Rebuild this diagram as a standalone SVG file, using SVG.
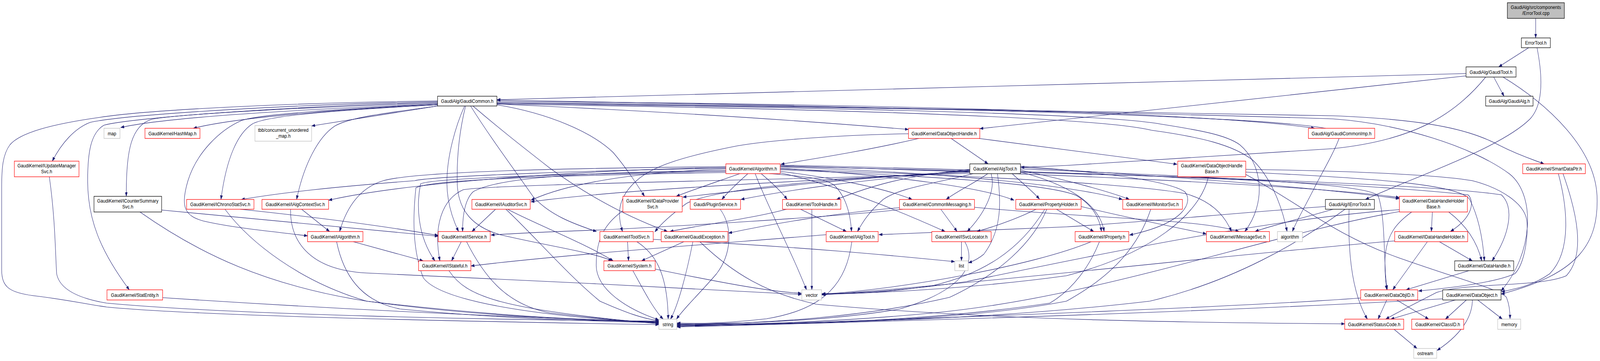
<svg xmlns="http://www.w3.org/2000/svg" width="4801" height="923" viewBox="0 0 4801 923">
<style>
.e path{fill:none;stroke:#191970;stroke-width:1.1;marker-end:url(#ah)}
.n rect{fill:#fff;stroke-width:1.3}
.r rect{stroke:#ff0000}
.b rect{stroke:#000}
.g rect{stroke:#bfbfbf}
.m rect{fill:#bfbfbf;stroke:#000}
text{font-family:"Liberation Sans",Arial,Helvetica,sans-serif;font-size:13.2px;text-anchor:middle;fill:#000}
</style>
<defs>
<marker id="ah" markerUnits="userSpaceOnUse" markerWidth="11" markerHeight="8" refX="10.5" refY="3.75" orient="auto">
<path d="M0,0 L10.5,3.75 L0,7.5 z" fill="#191970" stroke="#191970" stroke-width="0.5"/>
</marker>
</defs>
<rect width="4801" height="923" fill="#fff"/>
<g id="diagram" transform="scale(0.85316,1)">
<g class="e" id="edges">
<path d="M4608,47 L4608,97"/>
<path d="M4587,122 L4497,171"/>
<path d="M4612,122 C4630,200 4630,270 4590,305 C4500,380 4250,450 4097,510"/>
<path d="M4399,188 L1491,255"/>
<path d="M4399,194 L2940,329"/>
<path d="M4458,197 C4360,300 4230,360 4000,380 L3200,423 L3063,428"/>
<path d="M4482,197 L4513,246"/>
<path d="M4510,197 C4650,270 4785,380 4792,500 C4798,620 4740,700 4504,752"/>
<path d="M1313,258 C900,262 450,280 300,300 C150,318 60,340 30,370 C8,395 5,430 5,480 L5,690 C5,735 30,748 100,756 C200,766 260,778 320,785 C600,808 1400,822 1977,830"/>
<path d="M1313,260 C900,266 380,292 270,313 C225,328 185,365 157,412"/>
<path d="M1313,262 C900,270 400,300 312,320 C272,340 263,390 263,462 C263,560 300,640 388,741"/>
<path d="M1313,264 C950,272 530,292 455,305 C395,322 378,380 379,502"/>
<path d="M1313,266 C1000,276 520,296 362,326"/>
<path d="M1313,268 C1050,278 720,298 580,328"/>
<path d="M1313,271 L935,322"/>
<path d="M1313,268 C1000,282 800,296 757,317 C715,340 680,400 663,510"/>
<path d="M1313,266 C1050,278 790,290 725,308 C660,332 590,390 564,462 C540,530 555,552 610,565 C700,583 820,592 923,603"/>
<path d="M1313,271 C1150,290 1050,300 1005,322 C955,350 912,420 890,510"/>
<path d="M1394,271 C1368,320 1340,400 1341,470 C1342,520 1358,560 1376,592"/>
<path d="M1397,271 C1380,330 1370,400 1372,470 C1375,540 1420,580 1500,600 C1650,630 1780,645 1836,667"/>
<path d="M1412,271 C1470,350 1540,430 1600,503 C1650,550 1720,572 1790,592"/>
<path d="M1419,271 C1500,330 1560,370 1650,430 C1780,510 1900,560 2003,592"/>
<path d="M1491,268 C1650,290 1780,340 1840,390 C1880,430 1910,470 1934,502"/>
<path d="M1491,266 C2000,285 2400,308 2726,331"/>
<path d="M1491,259 C2500,265 3600,285 3945,328"/>
<path d="M1491,262 C2500,268 3600,285 4000,296 C4300,306 4420,335 4500,372 C4560,398 4600,408 4633,419"/>
<path d="M1491,264 C2500,272 3500,290 4000,304 C4200,316 4420,375 4530,445 C4610,500 4600,650 4504,744"/>
<path d="M1491,266 C2500,278 3300,300 3455,333 C3600,350 3700,370 3760,410 C3820,460 3850,540 3862,592"/>
<path d="M1491,264 C2500,275 3300,290 3481,317 C3600,333 3680,345 3720,370 C3790,420 3800,520 3735,592"/>
<path d="M3978,328 C3800,300 3000,278 1491,256"/>
<path d="M4018,354 C4005,385 3975,430 3950,470 C3915,530 3890,565 3878,592"/>
<path d="M2757,354 C2600,385 2450,405 2343,420"/>
<path d="M2726,342 C2500,345 2300,360 2212,373 C2050,400 1957,425 1910,462 C1860,500 1848,540 1868,592"/>
<path d="M2854,354 L2965,419"/>
<path d="M2938,354 L3532,420"/>
<path d="M2178,426 C1700,430 1250,438 1150,462 C1080,480 1040,530 1019,592"/>
<path d="M2178,432 C1900,440 1700,470 1593,512"/>
<path d="M2178,436 C1800,440 1500,450 1420,490 C1395,510 1388,550 1388,592"/>
<path d="M2178,438 C1700,445 1300,455 1262,470 C1250,520 1250,600 1305,667"/>
<path d="M2178,441 C1700,448 1300,458 1248,480 C1238,560 1238,640 1270,710 C1320,770 1600,808 1977,826"/>
<path d="M2178,430 C1800,435 1300,450 1244,462 C1000,478 850,492 724,510"/>
<path d="M2178,428 C1700,436 1200,470 986,512"/>
<path d="M2220,444 C2150,465 2080,485 2029,502"/>
<path d="M2244,444 C2210,470 2185,490 2166,510"/>
<path d="M2266,444 C2300,520 2360,620 2395,690 C2410,720 2415,730 2420,741"/>
<path d="M2284,444 C2320,470 2345,490 2362,510"/>
<path d="M2309,444 C2400,450 2480,455 2505,475 C2540,505 2552,550 2555,592"/>
<path d="M2341,438 C2500,455 2650,480 2737,510"/>
<path d="M2341,442 C2500,470 2700,540 2836,592"/>
<path d="M2341,430 C2700,450 2950,480 3043,512"/>
<path d="M2341,427 C2800,440 3200,470 3368,510"/>
<path d="M2341,434 C2800,450 3150,470 3230,500 C3280,525 3300,560 3305,592"/>
<path d="M2341,432 C2900,448 3400,470 3557,495 C3620,510 3670,540 3695,592"/>
<path d="M2341,424 C3000,440 3900,470 4199,505"/>
<path d="M2341,422 C3000,435 4000,460 4405,498 C4425,515 4420,555 4352,592"/>
<path d="M2341,425 C3000,440 4200,460 4505,498 C4545,530 4530,600 4477,667"/>
<path d="M2910,440 C2500,460 1900,480 1593,516"/>
<path d="M2910,443 C2400,460 1500,470 1390,485 C1325,510 1300,580 1320,667"/>
<path d="M2910,437 C2500,460 2300,480 2049,504"/>
<path d="M2910,435 C2600,460 2400,480 2223,510"/>
<path d="M2910,433 C2700,450 2600,480 2510,510"/>
<path d="M2964,444 C2920,470 2870,490 2839,510"/>
<path d="M3037,444 C3070,470 3100,490 3119,509"/>
<path d="M2920,444 C2800,470 2700,480 2650,510 C2610,540 2590,565 2573,592"/>
<path d="M2974,444 C2990,490 2950,550 2902,592"/>
<path d="M2993,444 C3005,520 3005,590 2952,650 C2935,662 2920,668 2906,672"/>
<path d="M3062,435 C3200,460 3330,490 3389,510"/>
<path d="M3062,425 C3300,440 3500,460 3555,490 C3580,515 3560,570 3389,601"/>
<path d="M3062,440 C3200,470 3300,520 3313,592"/>
<path d="M3062,428 C3500,450 3900,475 4199,508"/>
<path d="M3062,432 C3700,455 4100,470 4135,500 C4160,560 4150,690 4163,740"/>
<path d="M2910,438 C2500,458 2150,480 2060,520 C2020,545 1985,570 1965,593"/>
<path d="M2823,535 L2872,592"/>
<path d="M2924,530 C3300,560 3600,560 3718,592"/>
<path d="M2709,535 C2500,555 2000,580 1800,588 C1600,594 1520,598 1473,601"/>
<path d="M2699,531 C2500,545 2300,575 2186,596"/>
<path d="M3170,535 L3282,592"/>
<path d="M3109,535 C3050,560 2980,580 2931,592"/>
<path d="M3135,535 C3060,640 2950,700 2800,730 C2650,750 2550,750 2466,752"/>
<path d="M3141,535 C3100,620 3000,700 2850,760 C2600,810 2300,828 2031,830"/>
<path d="M3244,528 C3400,560 3550,585 3620,598"/>
<path d="M3453,535 C3420,620 3350,700 3200,770 C2900,820 2400,830 2031,832"/>
<path d="M3299,618 C3270,680 3220,740 3150,775 C2800,820 2400,830 2031,833"/>
<path d="M3274,618 C3100,680 2700,740 2466,752"/>
<path d="M2885,618 L2885,667"/>
<path d="M2895,618 C2930,670 2900,740 2700,790 C2500,820 2200,830 2031,826"/>
<path d="M2479,600 C2200,620 1700,650 1413,680"/>
<path d="M2556,618 C2540,720 2480,790 2300,815 C2200,825 2100,828 2031,828"/>
<path d="M2402,535 L2540,592"/>
<path d="M2436,535 L2436,741"/>
<path d="M2360,535 C2250,560 2100,575 2010,592"/>
<path d="M2161,535 C2200,580 2195,650 2150,700 C2100,750 2050,790 2030,816"/>
<path d="M1869,539 C1800,580 1789,629 1789,679 C1790,740 1880,790 1977,818"/>
<path d="M1883,618 L1886,667"/>
<path d="M1911,618 C1960,645 2003,690 2005,816"/>
<path d="M1960,612 C2400,630 2700,655 2865,669"/>
<path d="M2052,618 L1925,667"/>
<path d="M2079,618 C2060,700 2035,780 2012,816"/>
<path d="M2100,618 C2200,700 2300,750 2450,778 C3000,820 3600,825 4035,828"/>
<path d="M1899,692 C1930,740 1960,790 1990,816"/>
<path d="M1966,688 C2150,720 2300,745 2405,750"/>
<path d="M1384,618 L1355,667"/>
<path d="M1400,618 C1460,720 1530,780 1650,800 C1800,815 1900,822 1977,826"/>
<path d="M1487,535 L1416,592"/>
<path d="M1518,535 C1600,600 1700,700 1800,770 C1880,800 1930,815 1977,820"/>
<path d="M1523,535 C1600,570 1750,620 1840,667"/>
<path d="M1060,618 L1270,667"/>
<path d="M1010,618 C1030,700 1080,770 1200,790 C1500,815 1800,822 1977,825"/>
<path d="M1347,692 C1400,760 1500,790 1977,828"/>
<path d="M905,535 L989,592"/>
<path d="M872,535 C870,610 920,690 1100,698 C1500,712 2000,735 2405,753"/>
<path d="M721,535 C1000,560 1200,585 1315,602"/>
<path d="M675,535 C750,620 900,720 1100,770 C1400,805 1700,818 1977,824"/>
<path d="M485,537 C800,565 1100,588 1315,604"/>
<path d="M420,542 C600,650 800,730 1100,770 C1500,810 1800,820 1977,822"/>
<path d="M488,761 C1000,790 1500,810 1977,823"/>
<path d="M148,452 C166,560 166,650 170,700 C180,745 250,765 320,775 C700,805 1500,818 1977,821"/>
<path d="M3738,433 C4000,436 4300,445 4418,462 C4500,480 4580,520 4582,570 C4585,620 4570,680 4545,700 C4480,725 4330,738 4256,744"/>
<path d="M3738,440 C4100,455 4380,470 4410,510 C4440,560 4450,620 4454,667"/>
<path d="M3626,452 C3600,550 3450,650 3200,705 C2900,740 2600,750 2466,753"/>
<path d="M3738,446 C3900,520 4000,600 4200,660 C4400,720 4500,740 4520,760 C4530,780 4531,800 4531,815"/>
<path d="M4298,542 L4295,592"/>
<path d="M4347,542 C4390,570 4430,610 4446,667"/>
<path d="M4236,542 C4190,570 4160,600 4156,660 C4155,700 4158,720 4161,741"/>
<path d="M4199,536 C3800,560 3300,650 2900,720 C2700,745 2550,750 2466,751"/>
<path d="M4199,541 C3800,600 3300,760 2800,800 C2500,825 2200,830 2031,831"/>
<path d="M4283,618 L4179,741"/>
<path d="M4319,618 L4418,667"/>
<path d="M4185,616 C3700,650 3000,720 2466,754"/>
<path d="M4408,692 L4219,741"/>
<path d="M4161,767 L4135,816"/>
<path d="M4191,767 L4287,816"/>
<path d="M4083,762 C3800,780 3000,810 2031,835"/>
<path d="M4367,767 L4173,816"/>
<path d="M4400,767 L4337,816"/>
<path d="M4434,767 L4508,816"/>
<path d="M4418,767 C4418,795 4403,845 4312,896"/>
<path d="M4329,764 C3800,790 3000,815 2031,836"/>
<path d="M4183,842 L4252,891"/>
<path d="M4676,444 C4700,520 4720,640 4650,700 C4600,730 4550,738 4505,746"/>
<path d="M4690,444 C4730,540 4760,650 4700,705 C4620,735 4400,722 4310,748 C4260,770 4190,800 4158,816"/>
<path d="M3977,528 C3700,545 3400,570 3200,580 L2637,600"/>
<path d="M4048,535 C4045,620 4050,740 4103,816"/>
<path d="M4000,535 C3900,560 3800,580 3766,592"/>
<path d="M4036,535 C3900,620 3700,720 3450,770 C3000,815 2500,828 2031,830"/>
</g>
<g id="n1" class="n m"><rect x="4523" y="7" width="171" height="40"/><text x="4608.5" y="23">GaudiAlg/src/components</text><text x="4608.5" y="38">/ErrorTool.cpp</text></g>
<g id="n2" class="n b"><rect x="4565" y="97" width="87" height="25"/><text x="4608.5" y="114">ErrorTool.h</text></g>
<g id="n3" class="n b"><rect x="4399" y="171" width="150" height="26"/><text x="4474" y="189">GaudiAlg/GaudiTool.h</text></g>
<g id="n4" class="n b"><rect x="1313" y="246" width="178" height="25"/><text x="1402" y="263">GaudiAlg/GaudiCommon.h</text></g>
<g id="n5" class="n b"><rect x="4458" y="246" width="142" height="25"/><text x="4529" y="263">GaudiAlg/GaudiAlg.h</text></g>
<g id="n6" class="n r"><rect x="2726" y="328" width="214" height="26"/><text x="2833" y="346">GaudiKernel/DataObjectHandle.h</text></g>
<g id="n7" class="n r"><rect x="3926" y="328" width="199" height="26"/><text x="4025.5" y="346">GaudiAlg/GaudiCommonImp.h</text></g>
<g id="n8" class="n g"><rect x="312" y="328" width="48" height="26"/><text x="336" y="346">map</text></g>
<g id="n9" class="n r"><rect x="435" y="328" width="165" height="26"/><text x="517.5" y="346">GaudiKernel/HashMap.h</text></g>
<g id="n10" class="n g"><rect x="765" y="321" width="170" height="40"/><text x="850" y="337">tbb/concurrent_unordered</text><text x="850" y="352">_map.h</text></g>
<g id="n11" class="n r"><rect x="43" y="412" width="194" height="40"/><text x="140" y="428">GaudiKernel/IUpdateManager</text><text x="140" y="443">Svc.h</text></g>
<g id="n12" class="n r"><rect x="2178" y="419" width="163" height="25"/><text x="2259.5" y="436">GaudiKernel/Algorithm.h</text></g>
<g id="n13" class="n b"><rect x="2910" y="419" width="152" height="25"/><text x="2986" y="436">GaudiKernel/AlgTool.h</text></g>
<g id="n14" class="n r"><rect x="3534" y="412" width="204" height="40"/><text x="3636" y="428">GaudiKernel/DataObjectHandle</text><text x="3636" y="443">Base.h</text></g>
<g id="n15" class="n r"><rect x="4569" y="419" width="188" height="25"/><text x="4663" y="436">GaudiKernel/SmartDataPtr.h</text></g>
<g id="n16" class="n b"><rect x="282" y="502" width="203" height="40"/><text x="383.5" y="518">GaudiKernel/ICounterSummary</text><text x="383.5" y="533">Svc.h</text></g>
<g id="n17" class="n r"><rect x="560" y="510" width="202" height="25"/><text x="661" y="527">GaudiKernel/IChronoStatSvc.h</text></g>
<g id="n18" class="n r"><rect x="786" y="510" width="200" height="25"/><text x="886" y="527">GaudiKernel/IAlgContextSvc.h</text></g>
<g id="n19" class="n r"><rect x="1416" y="510" width="175" height="25"/><text x="1503.5" y="527">GaudiKernel/IAuditorSvc.h</text></g>
<g id="n20" class="n r"><rect x="1869" y="502" width="178" height="40"/><text x="1958" y="518">GaudiKernel/IDataProvider</text><text x="1958" y="533">Svc.h</text></g>
<g id="n21" class="n r"><rect x="2071" y="510" width="151" height="25"/><text x="2146.5" y="527">Gaudi/PluginService.h</text></g>
<g id="n22" class="n r"><rect x="2348" y="510" width="175" height="25"/><text x="2435.5" y="527">GaudiKernel/ToolHandle.h</text></g>
<g id="n23" class="n r"><rect x="2699" y="510" width="225" height="25"/><text x="2811.5" y="527">GaudiKernel/CommonMessaging.h</text></g>
<g id="n24" class="n r"><rect x="3048" y="510" width="196" height="25"/><text x="3146" y="527">GaudiKernel/PropertyHolder.h</text></g>
<g id="n25" class="n r"><rect x="3369" y="510" width="179" height="25"/><text x="3458.5" y="527">GaudiKernel/IMonitorSvc.h</text></g>
<g id="n26" class="n b"><rect x="3977" y="510" width="147" height="25"/><text x="4050.5" y="527">GaudiAlg/IErrorTool.h</text></g>
<g id="n27" class="n r"><rect x="4199" y="502" width="204" height="40"/><text x="4301" y="518">GaudiKernel/DataHandleHolder</text><text x="4301" y="533">Base.h</text></g>
<g id="n28" class="n r"><rect x="923" y="592" width="166" height="26"/><text x="1006" y="610">GaudiKernel/IAlgorithm.h</text></g>
<g id="n29" class="n r"><rect x="1315" y="592" width="156" height="26"/><text x="1393" y="610">GaudiKernel/IService.h</text></g>
<g id="n30" class="n r"><rect x="1800" y="592" width="160" height="26"/><text x="1880" y="610">GaudiKernel/IToolSvc.h</text></g>
<g id="n31" class="n r"><rect x="1984" y="592" width="200" height="26"/><text x="2084" y="610">GaudiKernel/GaudiException.h</text></g>
<g id="n32" class="n r"><rect x="2479" y="592" width="156" height="26"/><text x="2557" y="610">GaudiKernel/IAlgTool.h</text></g>
<g id="n33" class="n r"><rect x="2796" y="592" width="178" height="26"/><text x="2885" y="610">GaudiKernel/ISvcLocator.h</text></g>
<g id="n34" class="n r"><rect x="3226" y="592" width="161" height="26"/><text x="3306.5" y="610">GaudiKernel/IProperty.h</text></g>
<g id="n35" class="n r"><rect x="3620" y="592" width="189" height="26"/><text x="3714.5" y="610">GaudiKernel/IMessageSvc.h</text></g>
<g id="n36" class="n g"><rect x="3833" y="592" width="75" height="26"/><text x="3870.5" y="610">algorithm</text></g>
<g id="n37" class="n r"><rect x="4185" y="592" width="219" height="26"/><text x="4294.5" y="610">GaudiKernel/IDataHandleHolder.h</text></g>
<g id="n38" class="n r"><rect x="1256" y="667" width="157" height="25"/><text x="1334.5" y="684">GaudiKernel/IStateful.h</text></g>
<g id="n39" class="n r"><rect x="1812" y="667" width="154" height="25"/><text x="1889" y="684">GaudiKernel/System.h</text></g>
<g id="n40" class="n g"><rect x="2865" y="667" width="40" height="25"/><text x="2885" y="684">list</text></g>
<g id="n41" class="n b"><rect x="4365" y="667" width="177" height="25"/><text x="4453.5" y="684">GaudiKernel/DataHandle.h</text></g>
<g id="n42" class="n r"><rect x="321" y="741" width="167" height="26"/><text x="404.5" y="759">GaudiKernel/StatEntity.h</text></g>
<g id="n43" class="n g"><rect x="2406" y="741" width="59" height="26"/><text x="2435.5" y="759">vector</text></g>
<g id="n44" class="n r"><rect x="4083" y="741" width="171" height="26"/><text x="4168.5" y="759">GaudiKernel/DataObjID.h</text></g>
<g id="n45" class="n b"><rect x="4329" y="741" width="175" height="26"/><text x="4416.5" y="759">GaudiKernel/DataObject.h</text></g>
<g id="n46" class="n g"><rect x="1977" y="816" width="54" height="26"/><text x="2004" y="834">string</text></g>
<g id="n47" class="n r"><rect x="4035" y="816" width="177" height="26"/><text x="4123.5" y="834">GaudiKernel/StatusCode.h</text></g>
<g id="n48" class="n r"><rect x="4236" y="816" width="156" height="26"/><text x="4314" y="834">GaudiKernel/ClassID.h</text></g>
<g id="n49" class="n g"><rect x="4494" y="816" width="69" height="26"/><text x="4528.5" y="834">memory</text></g>
<g id="n50" class="n g"><rect x="4242" y="891" width="69" height="25"/><text x="4276.5" y="908">ostream</text></g>
</g>
</svg>
